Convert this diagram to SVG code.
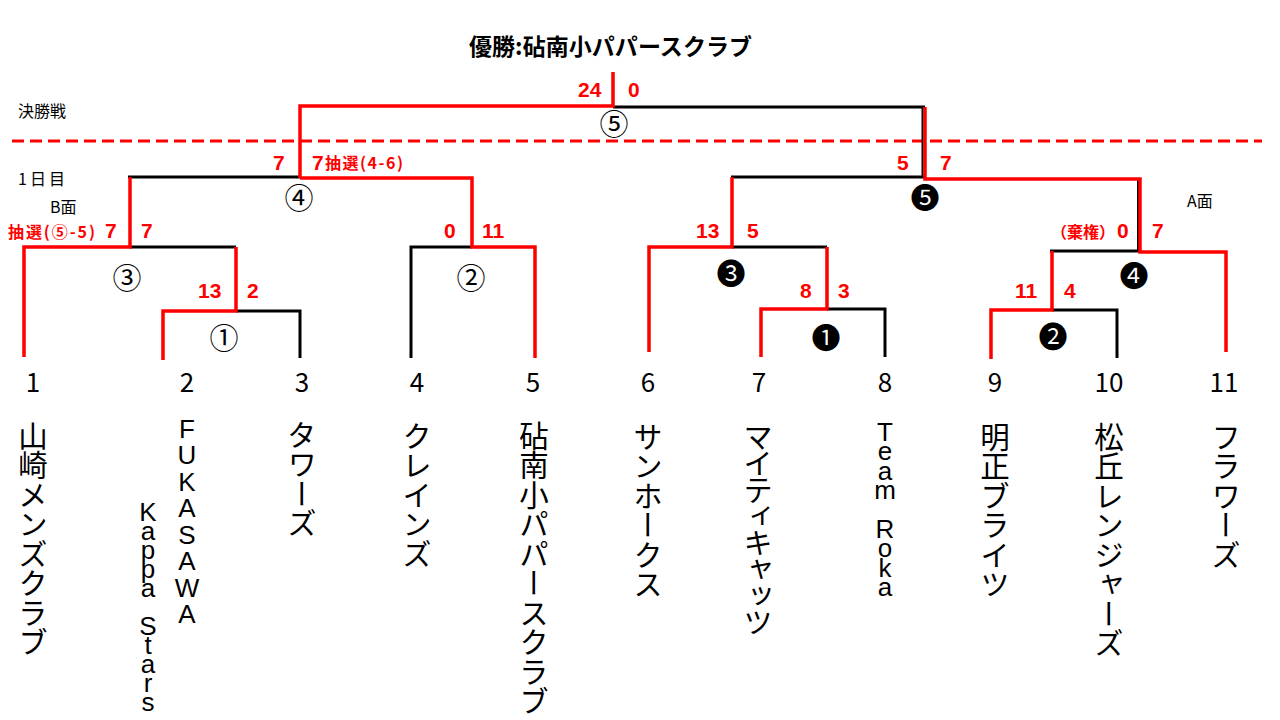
<svg xmlns="http://www.w3.org/2000/svg" width="1280" height="720" viewBox="0 0 1280 720">
<style>
.bk{stroke:#000;stroke-width:3;fill:none}
.bt{stroke:#000;stroke-width:2;fill:none}
.rd{stroke:#f00;stroke-width:3.5;fill:none}
.ds{stroke:#f00;stroke-width:3;fill:none;stroke-dasharray:12 6}
.sc{font-family:"Liberation Sans",Arial,sans-serif;font-weight:bold;font-size:21px;fill:#f00}
.lt{font-family:"Noto Sans CJK JP",sans-serif;font-weight:bold;font-size:16px;fill:#f00}
.cn{font-family:"Noto Sans CJK JP",sans-serif;font-size:29px;text-anchor:middle;dominant-baseline:central;fill:#000}
.lb{font-family:"Noto Sans CJK JP",sans-serif;font-size:16px;fill:#000}
.nm{font-family:"Noto Sans CJK JP",sans-serif;font-size:26px;text-anchor:middle;fill:#000}
.tm{font-family:"Noto Sans CJK JP",sans-serif;font-size:29.5px;writing-mode:vertical-rl;text-orientation:upright;fill:#000}
.la{font-family:"Liberation Sans",Arial,sans-serif;font-size:26px;writing-mode:vertical-rl;text-orientation:upright;fill:#000}
.ti{font-family:"Noto Sans CJK JP",sans-serif;font-weight:bold;font-size:23px;fill:#000}
</style>
<rect width="1280" height="720" fill="#fff"/>
<g id="title">
<text class="ti" x="469" y="55" textLength="283" lengthAdjust="spacing">優勝:砧南小パパースクラブ</text>
</g>
<g id="labels">
<text class="lb" x="18" y="117" font-size="20">決勝戦</text>
<text class="lb" x="18" y="185" textLength="47" lengthAdjust="spacing">1日目</text>
<text class="lb" x="50" y="213">B面</text>
<text class="lb" x="1187" y="207">A面</text>
</g>
<g id="connectors">
<path class="ds" d="M12,141 H1262"/>
<path class="bk" d="M613,107 H925"/>
<path class="bt" d="M922.5,107 V177"/>
<path class="bk" d="M128,177 H300"/>
<path class="bk" d="M731,177 H925"/>
<path class="bk" d="M130,247 H236"/>
<path class="bk" d="M236,311 H300 V358"/>
<path class="bk" d="M411,358 V247 H472"/>
<path class="bk" d="M732,247 H827"/>
<path class="bk" d="M827,309 H885 V357"/>
<path class="bk" d="M1050,251 H1140"/>
<path class="bt" d="M1138,179 V251"/>
<path class="bk" d="M1052,310 H1117 V358"/>
<path class="rd" d="M300,178 V106 H613 V72"/>
<path class="rd" d="M925,107 V179 H1140 V252 H1226 V352"/>
<path class="rd" d="M300,178 H472 V247 H535 V358"/>
<path class="rd" d="M24,357 V247 H130 V177"/>
<path class="rd" d="M163,360 V311 H236 V247"/>
<path class="rd" d="M649,352 V247 H732 V177"/>
<path class="rd" d="M761,357 V309 H827 V247"/>
<path class="rd" d="M991,359 V310 H1052 V251"/>
</g>
<g id="match-final">
<text class="cn" x="614" y="122">⑤</text>
<text class="sc" x="578" y="97">24</text>
<text class="sc" x="628" y="97">0</text>
</g>
<g id="match-b4">
<text class="cn" x="299" y="196">④</text>
<text class="sc" x="273" y="170">7</text>
<text class="sc" x="312" y="170">7</text>
<text class="lt" x="325" y="169" textLength="78" lengthAdjust="spacing">抽選(4-6)</text>
</g>
<g id="match-b3">
<text class="cn" x="127" y="276">③</text>
<text class="lt" x="8" y="238" textLength="87" lengthAdjust="spacing">抽選(⑤-5)</text>
<text class="sc" x="105" y="238">7</text>
<text class="sc" x="141" y="238">7</text>
</g>
<g id="match-b1">
<text class="cn" x="224" y="336">①</text>
<text class="sc" x="198" y="298">13</text>
<text class="sc" x="247" y="298">2</text>
</g>
<g id="match-b2">
<text class="cn" x="471" y="276">②</text>
<text class="sc" x="444" y="238">0</text>
<text class="sc" x="482" y="238">11</text>
</g>
<g id="match-a5">
<text class="cn" x="925" y="196" font-size="31">❺</text>
<text class="sc" x="897" y="170">5</text>
<text class="sc" x="940" y="170">7</text>
</g>
<g id="match-a3">
<text class="cn" x="731" y="272" font-size="31">❸</text>
<text class="sc" x="696" y="238">13</text>
<text class="sc" x="747" y="238">5</text>
</g>
<g id="match-a1">
<text class="cn" x="826" y="336" font-size="31">❶</text>
<text class="sc" x="800" y="298">8</text>
<text class="sc" x="838" y="298">3</text>
</g>
<g id="match-a4">
<text class="cn" x="1134" y="274" font-size="31">❹</text>
<text class="lt" x="1051" y="238">（棄権）</text>
<text class="sc" x="1117" y="238">0</text>
<text class="sc" x="1152" y="238">7</text>
</g>
<g id="match-a2">
<text class="cn" x="1053" y="335" font-size="31">❷</text>
<text class="sc" x="1015" y="298">11</text>
<text class="sc" x="1064" y="298">4</text>
</g>
<g id="team-1"><text class="nm" x="33" y="392">1</text><text class="tm" x="33" y="421">山崎メンズクラブ</text></g>
<g id="team-2"><text class="nm" x="187" y="392">2</text>
<text class="la" x="187" y="414" textLength="215" lengthAdjust="spacing">FUKASAWA</text>
<text class="la" x="148" y="497" textLength="220" lengthAdjust="spacing">Kappa Stars</text>
</g>
<g id="team-3"><text class="nm" x="302" y="392">3</text><text class="tm" x="302" y="420">タワーズ</text></g>
<g id="team-4"><text class="nm" x="417" y="392">4</text><text class="tm" x="417" y="421">クレインズ</text></g>
<g id="team-5"><text class="nm" x="533" y="392">5</text><text class="tm" x="534" y="421">砧南小パパースクラブ</text></g>
<g id="team-6"><text class="nm" x="648" y="392">6</text><text class="tm" x="648" y="422">サンホークス</text></g>
<g id="team-7"><text class="nm" x="759" y="392">7</text><text class="tm" x="758" y="422" letter-spacing="-3">マイティキャッツ</text></g>
<g id="team-8"><text class="nm" x="885" y="392">8</text>
<text class="la" x="885" y="417" textLength="185" lengthAdjust="spacing">Team Roka</text>
</g>
<g id="team-9"><text class="nm" x="995" y="392">9</text><text class="tm" x="995" y="422">明正ブライツ</text></g>
<g id="team-10"><text class="nm" x="1109" y="392">10</text><text class="tm" x="1109" y="422">松丘レンジャーズ</text></g>
<g id="team-11"><text class="nm" x="1224" y="392">11</text><text class="tm" x="1226" y="422">フラワーズ</text></g>
</svg>
